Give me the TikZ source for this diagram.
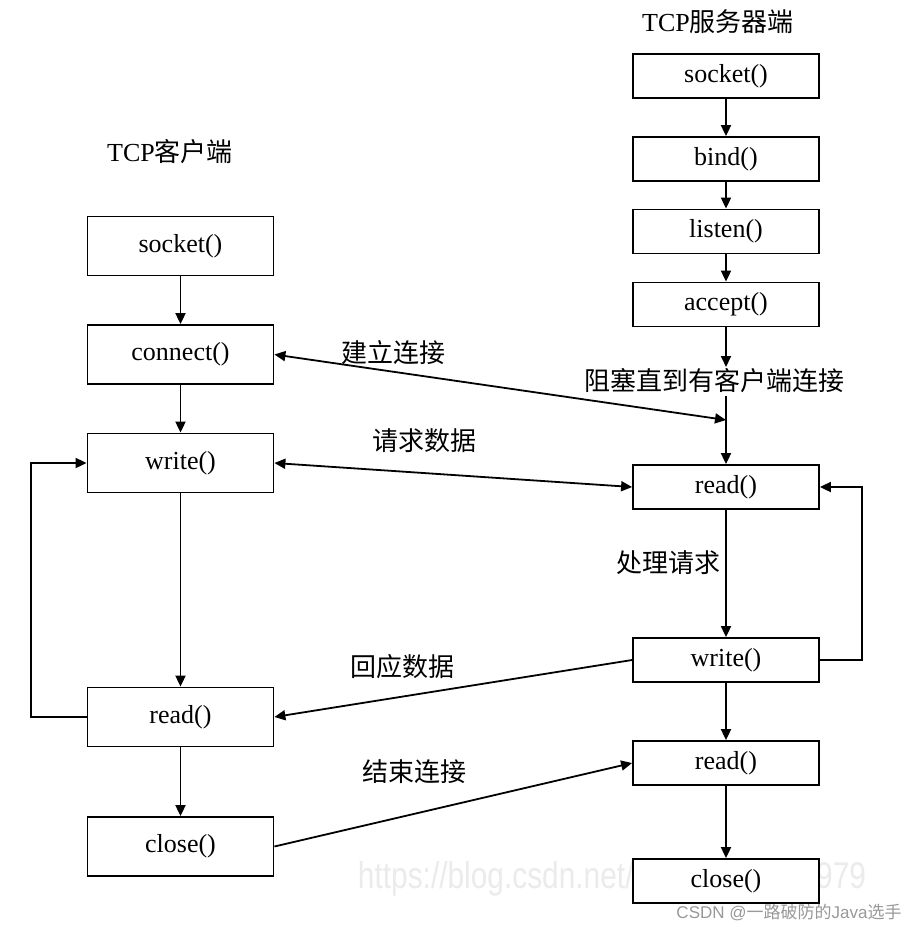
\documentclass[tikz,border=0pt]{standalone}
\usepackage{fontspec}
\setmainfont{Liberation Serif}
\newfontfamily\cjk{Noto Sans CJK SC}
\newfontfamily\wm{Liberation Sans}
\usetikzlibrary{arrows.meta}
\begin{document}
\begin{tikzpicture}[x=1pt,y=-1pt,
  >={Triangle[length=11pt,width=10pt]}, line width=1.8pt,
  cbox/.style={draw, line width=1.8pt, fill=white, minimum width=186pt, minimum height=59pt, inner sep=0pt, font=\fontsize{26}{26}\selectfont},
  sbox/.style={cbox, minimum height=44pt},
  lbl/.style={font=\cjk\fontsize{26}{26}\selectfont, inner sep=0pt},
  title/.style={font=\fontsize{26}{26}\selectfont, inner sep=0pt}]
\useasboundingbox[fill=white] (0,0) rectangle (912,927);

% watermarks
\node[text=black!8, font=\wm, inner sep=0pt] (wm) at (612,879) {\resizebox{508pt}{27pt}{https://blog.csdn.net/weixin\_44258979}};
\node[text=black!40, font=\wm\fontsize{17}{17}\selectfont, inner sep=0pt] (csdn) at (789,912) {CSDN @{\cjk 一路破防的}Java{\cjk 选手}};

% titles
\node[title] (tc) at (170,152) {TCP{\cjk 客户端}};
\node[title] (ts) at (718,22) {TCP{\cjk 服务器端}};

% client boxes
\node[cbox] (cs) at (180.5,246) {socket()};
\node[cbox] (cc) at (180.5,354.5) {connect()};
\node[cbox] (cw) at (180.5,463) {write()};
\node[cbox] (cr) at (180.5,717) {read()};
\node[cbox] (cx) at (180.5,846.5) {close()};

% server boxes
\node[sbox] (ss) at (726,76) {socket()};
\node[sbox] (sb) at (726,159) {bind()};
\node[sbox] (sl) at (726,231.5) {listen()};
\node[sbox] (sa) at (726,304.5) {accept()};
\node[sbox] (sr) at (726,487) {read()};
\node[sbox] (sw) at (726,660) {write()};
\node[sbox] (sr2) at (726,763) {read()};
\node[sbox] (sx) at (726,881) {close()};

% labels
\node[lbl] (block) at (714,381) {阻塞直到有客户端连接};
\node[lbl] (l1) at (393,353) {建立连接};
\node[lbl] (l2) at (424,441) {请求数据};
\node[lbl] (l3) at (668,563) {处理请求};
\node[lbl] (l4) at (402,667) {回应数据};
\node[lbl] (l5) at (414,772) {结束连接};

% client vertical flow
\draw[->] (cs) -- (cc);
\draw[->] (cc) -- (cw);
\draw[->] (cw) -- (cr);
\draw[->] (cr) -- (cx);
\draw[->] (cr.west) -- ++(-56,0) |- (cw.west);

% server vertical flow
\draw[->] (ss) -- (sb);
\draw[->] (sb) -- (sl);
\draw[->] (sl) -- (sa);
\draw[->] (sa.south) -- (sa.south |- 0,367);
\coordinate (join) at (726,420);
\draw[->] (sr.north |- 0,396) -- (sr.north);
\draw[->] (sr) -- (sw);
\draw[->] (sw) -- (sr2);
\draw[->] (sr2) -- (sx);
\draw[->] (sw.east) -- ++(42,0) |- (sr.east);

% exchanges
\draw[<->] (cc.east) -- (join);
\draw[<->] (cw.east) -- (sr.west);
\draw[->] (sw.west) -- (cr.east);
\draw[->] (cx.east) -- (sr2.west);
\end{tikzpicture}
\end{document}
